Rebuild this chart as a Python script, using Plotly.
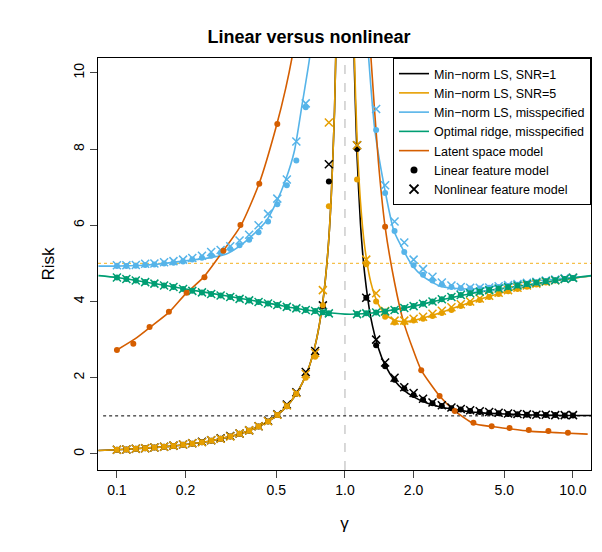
import plotly.graph_objects as go

# ---- data ----
left_curve_g = [0.083,0.1,0.13,0.17,0.2,0.25,0.3,0.35,0.4,0.45,0.5,0.55,0.6,0.65,0.7,0.75,0.8,0.84,0.87,0.9,0.92]
left_curve_r = [0.09,0.11,0.15,0.2,0.25,0.33,0.43,0.54,0.67,0.82,1.0,1.22,1.5,1.86,2.33,3.0,4.0,5.25,6.7,9.0,11.5]
right_curve_g = [1.08,1.1,1.13,1.17,1.22,1.3,1.4,1.5,1.65,1.8,2.0,2.3,2.6,3.0,3.5,4.0,5.0,6.0,7.5,9.0,12.0]
black_right_r = [12.57,10.09,7.81,6.03,4.73,3.56,2.79,2.33,1.93,1.69,1.5,1.33,1.24,1.17,1.11,1.08,1.05,1.03,1.02,1.01,1.01]
orange_right_r = [12.87,10.45,8.27,6.61,5.45,4.49,3.93,3.67,3.51,3.47,3.5,3.6,3.7,3.83,3.97,4.08,4.25,4.37,4.49,4.57,4.67]

blue_left_g = [0.083,0.1,0.15,0.2,0.25,0.3,0.35,0.4,0.45,0.5,0.55,0.6,0.65,0.7,0.73]
blue_left_r = [4.93,4.93,4.98,5.07,5.14,5.24,5.48,5.78,6.1,6.6,7.2,7.95,9.2,10.4,11.6]
blue_right_g = [1.22,1.27,1.35,1.5,1.64,1.81,1.98,2.19,2.6,3.0,3.52,4.0,4.61,5.5,6.69,8.0,9.6,12]
blue_right_r = [12,10.4,8.53,6.9,5.85,5.33,4.93,4.67,4.41,4.35,4.33,4.35,4.41,4.47,4.54,4.58,4.62,4.67]

green_g = [0.083,0.1,0.15,0.2,0.3,0.4,0.5,0.6,0.78,1.0,1.2,1.47,2.0,2.53,3.5,4.61,6.9,9.0,12]
green_r = [4.68,4.63,4.46,4.33,4.15,4.02,3.92,3.83,3.73,3.67,3.68,3.74,3.88,4.02,4.2,4.32,4.47,4.58,4.68]

latent_left_g = [0.1,0.12,0.14,0.17,0.2,0.24,0.29,0.35,0.42,0.5,0.55,0.59,0.62]
latent_left_r = [2.73,3.02,3.33,3.73,4.2,4.64,5.3,6.0,7.09,8.6,9.6,10.5,11.3]
latent_right_g = [1.25,1.3,1.4,1.5,1.65,1.8,2.0,2.16,2.6,3.03,3.66,4.4,5.27,6.4,7.8,9.1,11.6]
latent_right_r = [12,10.4,7.7,5.96,4.5,3.5,2.7,2.2,1.52,1.13,0.8,0.72,0.66,0.6,0.57,0.55,0.52]

grid_left = [0.1,0.11,0.121,0.133,0.146,0.161,0.177,0.195,0.214,0.236,0.259,0.285,0.314,0.345,0.38,0.418,0.46,0.505,0.556,0.612,0.673,0.74,0.8,0.85]
grid_right = [1.13,1.24,1.37,1.5,1.65,1.82,2.0,2.2,2.42,2.66,2.93,3.22,3.54,3.9,4.29,4.72,5.19,5.71,6.28,6.91,7.6,8.36,9.2,10.0]

black_dot_left = [0.11,0.12,0.14,0.15,0.17,0.19,0.21,0.24,0.27,0.31,0.35,0.4,0.46,0.53,0.61,0.72,0.85,1.02,1.25,1.58,2.06,2.62,3.88,7.15]
black_x_left = [0.11,0.12,0.14,0.15,0.17,0.19,0.22,0.25,0.28,0.32,0.36,0.41,0.47,0.54,0.62,0.73,0.87,1.04,1.3,1.62,2.15,2.7,3.9,7.6]
orange_dot_left = [0.11,0.12,0.14,0.15,0.17,0.19,0.21,0.24,0.27,0.31,0.35,0.4,0.46,0.53,0.61,0.72,0.85,1.02,1.25,1.58,2.0,2.55,3.9,6.5]
orange_x_left = [0.11,0.12,0.14,0.15,0.17,0.19,0.22,0.25,0.28,0.31,0.36,0.4,0.46,0.54,0.62,0.73,0.86,1.03,1.27,1.6,2.1,2.65,4.3,8.7]
black_dot_right = [8.0,4.1,2.85,2.3,1.95,1.72,1.55,1.42,1.33,1.26,1.2,1.17,1.13,1.1,1.08,1.07,1.05,1.04,1.03,1.03,1.02,1.02,1.01,1.01]
black_x_right = [8.1,4.1,3.0,2.4,2.0,1.75,1.6,1.45,1.35,1.28,1.22,1.18,1.15,1.12,1.1,1.08,1.06,1.05,1.04,1.03,1.03,1.02,1.02,1.02]
orange_dot_right = [7.2,4.98,4.0,3.6,3.45,3.45,3.5,3.55,3.62,3.7,3.78,3.88,3.96,4.04,4.12,4.2,4.27,4.33,4.39,4.45,4.5,4.55,4.59,4.62]
orange_x_right = [8.1,5.1,4.22,3.75,3.5,3.5,3.55,3.6,3.68,3.76,3.85,3.93,4.0,4.08,4.15,4.23,4.3,4.36,4.42,4.47,4.52,4.56,4.6,4.63]

blue_dot_left = [4.93,4.93,4.94,4.96,4.97,5.0,5.02,5.05,5.1,5.15,5.2,5.28,5.38,5.48,5.62,5.82,6.1,6.55,7.05,7.7,9.1]
blue_x_left = [4.95,4.95,4.96,4.99,5.0,5.03,5.06,5.1,5.14,5.2,5.3,5.35,5.45,5.6,5.75,6.0,6.3,6.7,7.2,8.2,9.2]
blue_dot_right = [8.5,6.85,5.85,5.3,4.95,4.7,4.55,4.45,4.38,4.35,4.34,4.34,4.36,4.38,4.41,4.44,4.47,4.5,4.53,4.56,4.59,4.62]
blue_x_right = [9.05,7.05,6.1,5.55,5.1,4.85,4.65,4.5,4.42,4.38,4.36,4.36,4.37,4.4,4.43,4.46,4.49,4.52,4.55,4.58,4.61,4.63]

green_left = [4.63,4.59,4.55,4.51,4.47,4.42,4.38,4.33,4.28,4.24,4.2,4.16,4.12,4.07,4.03,3.99,3.95,3.91,3.86,3.82,3.78,3.75,3.72,3.69]
green_right = [3.67,3.69,3.71,3.74,3.78,3.83,3.88,3.94,4.0,4.06,4.12,4.17,4.22,4.26,4.3,4.34,4.38,4.42,4.46,4.5,4.53,4.56,4.59,4.62]

latent_dot_g = [0.1,0.118,0.139,0.169,0.202,0.242,0.293,0.348,0.421,0.505,1.5,2.16,2.6,3.03,3.66,4.4,5.27,6.4,7.8,9.5]
latent_dot_r = [2.73,2.89,3.33,3.73,4.23,4.64,5.33,6.01,7.09,8.66,5.96,2.2,1.52,1.13,0.82,0.73,0.68,0.63,0.6,0.56]

BLACK, ORANGE, BLUE, GREEN, VERM = "#000000", "#E69F00", "#56B4E9", "#009E73", "#D55E00"

fig = go.Figure()

def line(x, y, c, name=None, show=False):
    fig.add_trace(go.Scatter(x=x, y=y, mode="lines", line=dict(color=c, width=1.6, shape="spline", smoothing=0.6),
                             name=name, showlegend=show, hoverinfo="skip"))

def pts(x, y, c, sym):
    if sym == "dot":
        m = dict(symbol="circle", size=6, color=c)
    else:
        m = dict(symbol="x-thin-open", size=8, color=c, line=dict(color=c, width=1.5))
    fig.add_trace(go.Scatter(x=x, y=y, mode="markers", marker=m, showlegend=False, hoverinfo="skip"))

line(right_curve_g, black_right_r, BLACK, "Min\u2212norm LS, SNR=1", True)
line(left_curve_g, left_curve_r, BLACK)
line(right_curve_g, orange_right_r, ORANGE, "Min\u2212norm LS, SNR=5", True)
line(left_curve_g, left_curve_r, ORANGE)
line(blue_left_g, blue_left_r, BLUE, "Min\u2212norm LS, misspecified", True)
line(blue_right_g, blue_right_r, BLUE)
line(green_g, green_r, GREEN, "Optimal ridge, misspecified", True)
line(latent_left_g, latent_left_r, VERM, "Latent space model", True)
line(latent_right_g, latent_right_r, VERM)

pts(grid_left, black_dot_left, BLACK, "dot"); pts(grid_left, black_x_left, BLACK, "x")
pts(grid_right, black_dot_right, BLACK, "dot"); pts(grid_right, black_x_right, BLACK, "x")
pts(grid_left, orange_dot_left, ORANGE, "dot"); pts(grid_left, orange_x_left, ORANGE, "x")
pts(grid_right, orange_dot_right, ORANGE, "dot"); pts(grid_right, orange_x_right, ORANGE, "x")
pts(grid_left[:21], blue_dot_left, BLUE, "dot"); pts(grid_left[:21], blue_x_left, BLUE, "x")
pts(grid_right[2:], blue_dot_right, BLUE, "dot"); pts(grid_right[2:], blue_x_right, BLUE, "x")
pts(grid_left + grid_right, green_left + green_right, GREEN, "dot")
pts(grid_left + grid_right, green_left + green_right, GREEN, "x")
pts(latent_dot_g, latent_dot_r, VERM, "dot")

fig.add_trace(go.Scatter(x=[None], y=[None], mode="markers", name="Linear feature model",
                         marker=dict(symbol="circle", size=7, color=BLACK)))
fig.add_trace(go.Scatter(x=[None], y=[None], mode="markers", name="Nonlinear feature model",
                         marker=dict(symbol="x-thin-open", size=9, color=BLACK, line=dict(color=BLACK, width=2))))

shapes = [
    dict(type="line", xref="x", yref="paper", x0=1, x1=1, y0=0, y1=1, layer="below",
         line=dict(color="#cccccc", width=1.5, dash="dash")),
    dict(type="line", xref="x", yref="y", x0=0.087, x1=12, y0=1, y1=1, layer="below",
         line=dict(color="black", width=1, dash="dot")),
    dict(type="line", xref="paper", yref="y", x0=0, x1=1, y0=5, y1=5, layer="below",
         line=dict(color="#F5C04A", width=1.3, dash="dot")),
]

fig.update_layout(
    width=602, height=552, plot_bgcolor="white", paper_bgcolor="white",
    margin=dict(l=90, r=19, t=50, b=90),
    font=dict(family="Liberation Sans, Arial", size=14, color="black"),
    title=dict(text="<b>Linear versus nonlinear</b>", x=0.5, xanchor="center", y=0.96, font=dict(size=18)),
    shapes=shapes,
    legend=dict(x=1, xanchor="right", y=1, yanchor="top", bordercolor="black", borderwidth=1,
                bgcolor="white", font=dict(size=12.5), tracegroupgap=0, itemwidth=30),
    xaxis=dict(type="log", range=[-1.083, 1.079], tickvals=[0.1, 0.2, 0.5, 1, 2, 5, 10],
               ticktext=["0.1", "0.2", "0.5", "1.0", "2.0", "5.0", "10.0"],
               showgrid=False, zeroline=False, showline=True, mirror=True, linecolor="black",
               ticks="outside", ticklen=7, title=dict(text="γ", standoff=20)),
    yaxis=dict(range=[-0.42, 10.39], tickvals=[0, 2, 4, 6, 8, 10], tickangle=-90,
               showgrid=False, zeroline=False, showline=True, mirror=True, linecolor="black",
               ticks="outside", ticklen=7, title=dict(text="Risk", standoff=12)),
)

fig.write_html("out.html")
